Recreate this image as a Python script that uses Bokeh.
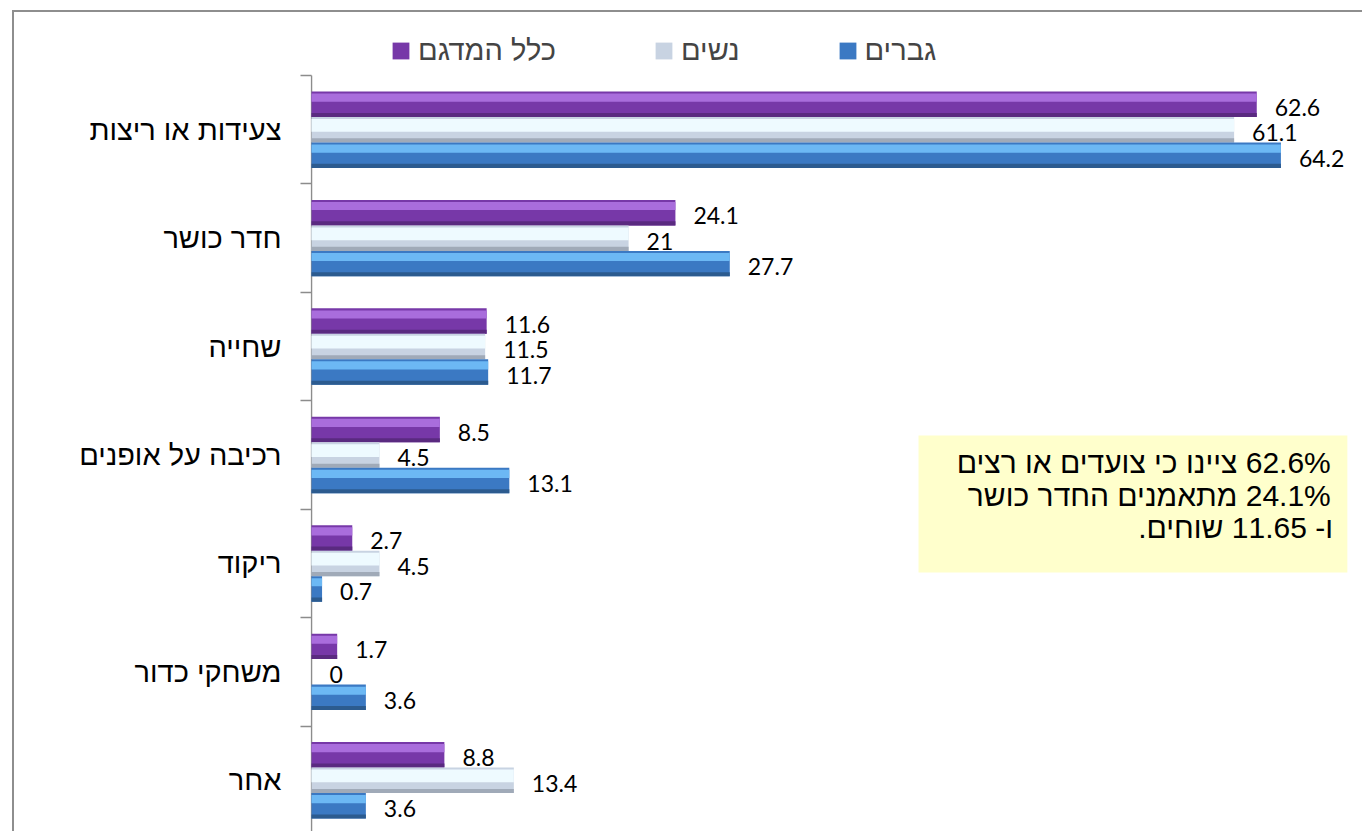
from bokeh.plotting import figure
from bokeh.models import (Range1d, FixedTicker, BoxAnnotation, Label, Legend,
                          LegendItem, ColumnDataSource)
from bokeh.transform import dodge
from bokeh.core.properties import value
from bokeh.embed import file_html
from bokeh.resources import INLINE

# ---------------- data ----------------
categories = ["צעידות או ריצות", "חדר כושר", "שחייה", "רכיבה על אופנים",
              "ריקוד", "משחקי כדור", "אחר"]
total = [62.6, 24.1, 11.6, 8.5, 2.7, 1.7, 8.8]
women = [61.1, 21, 11.5, 4.5, 4.5, 0, 13.4]
men = [64.2, 27.7, 11.7, 13.1, 0.7, 3.6, 3.6]
series_names = ["כלל המדגם", "נשים", "גברים"]
note_lines = ["62.6% ציינו כי צועדים או רצים",
              "24.1% מתאמנים החדר כושר",
              "ו- 11.65 שוחים."]

# ---------------- layout ----------------
n = len(categories)
ypos = [n - i - 0.5 for i in range(n)]          # category centres (top -> bottom)
bounds = [float(i) for i in range(n + 1)]       # category boundaries

W, HGT = 1350, 821
BORDER_L = 296
PX_X = 15.1            # px per percentage point
PX_Y = 108.43          # px per category
x0 = -1.0 / PX_X
y0 = 1.0 / PX_Y
x_rng = Range1d(x0, x0 + (W - BORDER_L) / PX_X)
y_rng = Range1d(y0, y0 + HGT / PX_Y)

src = ColumnDataSource(dict(
    y=ypos, total=total, women=women, men=men,
    total_lbl=[f"{v:g}" for v in total],
    women_lbl=[f"{v:g}" for v in women],
    men_lbl=[f"{v:g}" for v in men],
))

p = figure(width=W, height=HGT, x_range=x_rng, y_range=y_rng,
           x_axis_location=None, y_axis_location="left",
           toolbar_location=None, output_backend="svg",
           min_border_left=BORDER_L, min_border_top=0,
           min_border_right=0, min_border_bottom=0,
           margin=(10, 0, 0, 12),
           styles={"border-left": "2px solid #8e8e8e",
                   "border-top": "2px solid #8e8e8e"})
p.outline_line_color = None
p.grid.visible = False
p.background_fill_color = "white"
p.border_fill_color = "white"

# value axis line (from first to last category boundary)
p.segment(x0=[0], y0=[bounds[0]], x1=[0], y1=[bounds[-1]],
          line_color="#8c8c8c", line_width=1.5)

H = 0.235
styles = [
    # field, offset, body, highlight, shade
    ("total", H, "#7738a8", "#a96ddc", "#5a2a80"),
    ("women", 0.0, "#c8d3e2", "#eefaff", "#a0aab8"),
    ("men", -H, "#3b79c3", "#6cb8f4", "#2c5b8f"),
]

base_renderers = []
for field, off, body, hi, sh in styles:
    r = p.hbar(y=dodge("y", off, range=p.y_range), left=0, right=field,
               height=H, fill_color=body, line_color=None, source=src)
    base_renderers.append(r)
    hi_h = 0.5 if field == "women" else 0.32
    p.hbar(y=dodge("y", off + H * (0.42 - hi_h / 2), range=p.y_range),
           left=0, right=field, height=H * hi_h, fill_color=hi,
           line_color=None, source=src)
    p.hbar(y=dodge("y", off - H * 0.42, range=p.y_range), left=0, right=field,
           height=H * 0.16, fill_color=sh, line_color=None, source=src)
    p.text(x=field, y=dodge("y", off, range=p.y_range), text=field + "_lbl",
           source=src, x_offset=18, y_offset=3, text_align="left",
           text_baseline="middle", text_font=value("Lato"),
           text_font_size="23px", text_color="#000000")

# ---------------- axis ----------------
ax = p.yaxis[0]
ax.ticker = FixedTicker(ticks=ypos, minor_ticks=bounds)
ax.major_label_overrides = {y: c for y, c in zip(ypos, categories)}
ax.major_tick_out = 0
ax.major_tick_in = 0
ax.minor_tick_out = 10
ax.minor_tick_in = 1
ax.minor_tick_line_color = "#8c8c8c"
ax.minor_tick_line_width = 1.5
ax.axis_line_color = None
ax.major_label_standoff = 19
ax.major_label_text_font = "Liberation Sans"
ax.major_label_text_font_size = "29px"
ax.major_label_text_color = "#000000"

# ---------------- legend ----------------
legend = Legend(
    items=[LegendItem(label=name, renderers=[r])
           for name, r in zip(series_names, base_renderers)],
    orientation="horizontal", location=(80, 766),
    spacing=97, padding=0, margin=0,
    border_line_color=None, background_fill_alpha=0,
    glyph_width=21, glyph_height=21, label_standoff=7,
    label_text_font="Liberation Sans", label_text_font_size="29px",
    label_height=30,
)
p.add_layout(legend)

# ---------------- note box ----------------
p.add_layout(BoxAnnotation(left=40.2, right=68.6, top=3.68, bottom=2.416,
                           fill_color="#ffffcc", fill_alpha=1.0,
                           line_color=None))
for i, line in enumerate(note_lines):
    p.add_layout(Label(x=67.5, y=3.431 - i * 0.302,
                       text="\u200f" + line + "\u200f",
                       text_align="right", text_baseline="middle",
                       text_font="Liberation Sans", text_font_size="30px",
                       text_color="#000000"))

open("out.html", "w").write(file_html(p, INLINE))
